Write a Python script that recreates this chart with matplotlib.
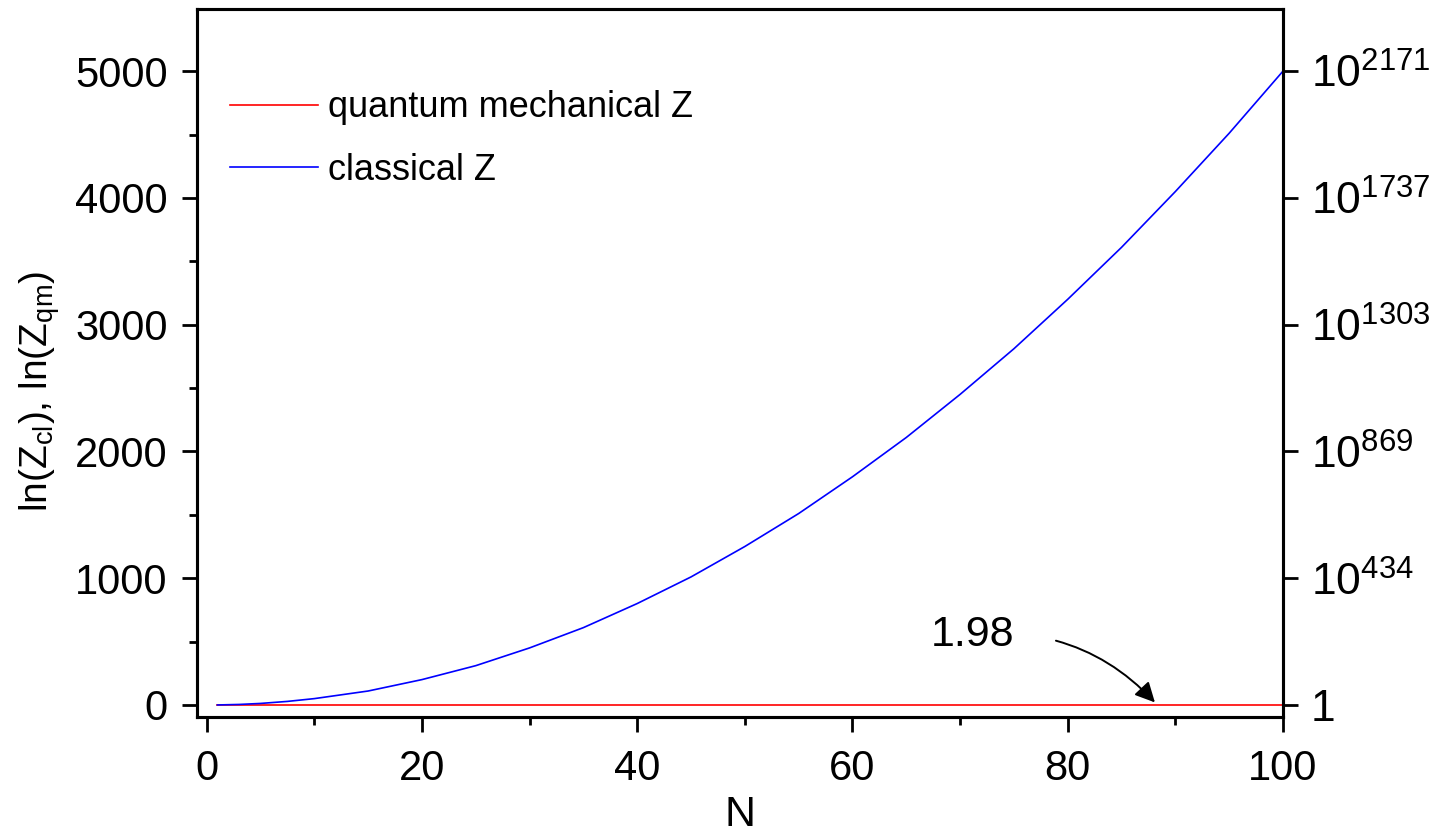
import matplotlib
matplotlib.use('Agg')
import matplotlib.pyplot as plt
import numpy as np
from matplotlib.ticker import MultipleLocator

plt.rcParams['font.family'] = ['Liberation Sans', 'DejaVu Sans']
plt.rcParams['mathtext.fontset'] = 'custom'
plt.rcParams['mathtext.rm'] = 'Liberation Sans'
plt.rcParams['mathtext.it'] = 'Liberation Sans'

# values
N = [1, 3, 5, 7.5, 10, 15, 20, 25, 30, 35, 40, 45, 50, 55, 60, 65, 70, 75, 80, 85, 90, 95, 100]
lnZ_cl = [0, 4, 12, 28, 50, 110, 200, 310, 450, 610, 800, 1010, 1250, 1510, 1800, 2110,
          2450, 2810, 3200, 3610, 4050, 4510, 5000]
N_qm = [1, 100]
lnZ_qm = [1.98, 1.98]

left_ticks = [0, 1000, 2000, 3000, 4000, 5000]
right_labels = ['1', r'$10^{434}$', r'$10^{869}$', r'$10^{1303}$', r'$10^{1737}$', r'$10^{2171}$']

fig = plt.figure(figsize=(14.33, 8.4), dpi=100)
ax = fig.add_axes([197/1433, 123/840, 1086/1433, 708/840])

ax.plot(N_qm, lnZ_qm, color='red', lw=1.2, label='quantum mechanical Z')
ax.plot(N, lnZ_cl, color='blue', lw=1.2, label='classical Z')

ax.set_xlim(-0.9, 100)
ax.set_ylim(-95, 5490)
ax.set_xticks([0, 20, 40, 60, 80, 100])
ax.xaxis.set_minor_locator(MultipleLocator(10))
ax.set_yticks(left_ticks)
ax.yaxis.set_minor_locator(MultipleLocator(500))
ax.tick_params(which='major', direction='out', length=11, width=2, labelsize=30)
ax.tick_params(which='minor', direction='out', length=5.5, width=2)
ax.tick_params(axis='x', pad=12)
ax.tick_params(axis='y', pad=10)
for s in ax.spines.values():
    s.set_linewidth(2.2)

ax.set_xlabel('N', fontsize=31)
ax.xaxis.set_label_coords(0.5, -0.11)
ax.set_ylabel(r'ln(Z$_{\mathrm{cl}}$), ln(Z$_{\mathrm{qm}}$)', fontsize=28)
ax.yaxis.set_label_coords(-0.124, 0.46)

ax2 = ax.twinx()
ax2.set_ylim(ax.get_ylim())
ax2.set_yticks(left_ticks)
ax2.set_yticklabels(right_labels)
ax2.tick_params(axis='y', direction='out', length=11, width=2, labelsize=32, pad=9)
for s in ax2.spines.values():
    s.set_linewidth(2.2)

ax.annotate('1.98', xy=(88.1, 20), xytext=(71.2, 552), fontsize=31,
            ha='center', va='center',
            arrowprops=dict(arrowstyle='-|>', color='black', lw=1.4,
                            mutation_scale=30, shrinkA=28, shrinkB=0,
                            connectionstyle='arc3,rad=-0.25'))

leg = ax.legend(loc='upper left', bbox_to_anchor=(0.03, 0.885), frameon=False,
                fontsize=26, handlelength=2.45, handletextpad=0.27,
                labelspacing=0.75, borderpad=0, borderaxespad=0)

fig.savefig('out.png', dpi=100)
